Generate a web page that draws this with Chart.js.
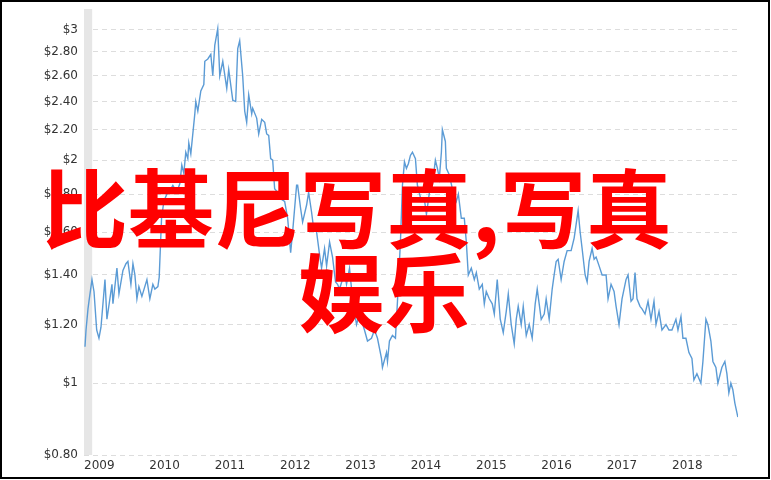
<!DOCTYPE html>
<html>
<head>
<meta charset="utf-8">
<script src="https://cdn.jsdelivr.net/npm/chart.js@4/dist/chart.umd.min.js"></script>
<style>
  html, body { margin: 0; padding: 0; background: #fff; }
  #wrap { position: relative; width: 771px; height: 480px; overflow: hidden; }
  #chart { position: absolute; left: 0; top: 0; }
  #frame { position: absolute; left: 0; top: 0; width: 770px; height: 479px; border: 2px solid #000; box-sizing: border-box; pointer-events: none; }
  .mark { position: absolute; color: #ff0000; font-family: "Noto Sans CJK SC", sans-serif; font-weight: bold; font-size: 86px; line-height: 86px; white-space: nowrap; }
</style>
</head>
<body>
<div id="wrap">
  <canvas id="chart" width="771" height="480"></canvas>
  <div id="frame"></div>
  <div class="mark" id="line1" style="left:42px; top:162px;">比基尼写真,写真</div>
  <div class="mark" id="line2" style="left:298px; top:246px;">娱乐</div>
</div>
<script>
// decimal years and prices
const dates = [
  2009.015, 2009.031, 2009.061, 2009.076, 2009.122, 2009.153, 2009.194, 2009.229, 2009.260, 2009.321,
  2009.351, 2009.428, 2009.443, 2009.504, 2009.535, 2009.596, 2009.642, 2009.672, 2009.718, 2009.749,
  2009.779, 2009.810, 2009.840, 2009.886, 2009.963, 2010.008, 2010.054, 2010.085, 2010.131, 2010.151,
  2010.187, 2010.222, 2010.268, 2010.314, 2010.360, 2010.421, 2010.467, 2010.497, 2010.528, 2010.558,
  2010.589, 2010.604, 2010.635, 2010.696, 2010.711, 2010.742, 2010.788, 2010.834, 2010.849, 2010.895,
  2010.941, 2010.971, 2011.002, 2011.047, 2011.078, 2011.124, 2011.185, 2011.215, 2011.277, 2011.322,
  2011.353, 2011.383, 2011.429, 2011.460, 2011.490, 2011.521, 2011.567, 2011.582, 2011.643, 2011.674,
  2011.720, 2011.766, 2011.796, 2011.827, 2011.857, 2011.888, 2011.918, 2011.964, 2012.025, 2012.071,
  2012.117, 2012.163, 2012.193, 2012.254, 2012.270, 2012.316, 2012.346, 2012.407, 2012.438, 2012.484,
  2012.514, 2012.560, 2012.606, 2012.636, 2012.682, 2012.713, 2012.759, 2012.804, 2012.850, 2012.881,
  2012.911, 2012.988, 2013.018, 2013.064, 2013.110, 2013.171, 2013.217, 2013.293, 2013.339, 2013.400,
  2013.446, 2013.492, 2013.553, 2013.568, 2013.630, 2013.645, 2013.675, 2013.721, 2013.767, 2013.798,
  2013.843, 2013.874, 2013.905, 2013.935, 2013.966, 2013.996, 2014.027, 2014.073, 2014.103, 2014.164,
  2014.210, 2014.241, 2014.287, 2014.332, 2014.378, 2014.409, 2014.439, 2014.470, 2014.485, 2014.531,
  2014.546, 2014.592, 2014.638, 2014.699, 2014.730, 2014.775, 2014.821, 2014.852, 2014.882, 2014.928,
  2014.974, 2015.005, 2015.050, 2015.096, 2015.127, 2015.157, 2015.203, 2015.249, 2015.280, 2015.325,
  2015.371, 2015.417, 2015.463, 2015.494, 2015.539, 2015.585, 2015.616, 2015.646, 2015.692, 2015.723,
  2015.769, 2015.814, 2015.860, 2015.906, 2015.937, 2015.967, 2015.998, 2016.044, 2016.074, 2016.120,
  2016.166, 2016.196, 2016.227, 2016.257, 2016.303, 2016.349, 2016.395, 2016.456, 2016.502, 2016.533,
  2016.563, 2016.594, 2016.624, 2016.670, 2016.701, 2016.731, 2016.777, 2016.808, 2016.838, 2016.884,
  2016.930, 2016.991, 2017.021, 2017.067, 2017.113, 2017.144, 2017.189, 2017.235, 2017.296, 2017.327,
  2017.373, 2017.403, 2017.434, 2017.464, 2017.510, 2017.541, 2017.587, 2017.633, 2017.678, 2017.724,
  2017.755, 2017.801, 2017.846, 2017.908, 2017.953, 2017.999, 2018.060, 2018.091, 2018.137, 2018.167,
  2018.213, 2018.259, 2018.305, 2018.335, 2018.381, 2018.442, 2018.473, 2018.519, 2018.549, 2018.595,
  2018.626, 2018.672, 2018.702, 2018.763, 2018.809, 2018.840, 2018.870, 2018.901, 2018.931, 2018.962,
  2019.008
];
const prices = [
  1.12, 1.18, 1.26, 1.29, 1.38, 1.33, 1.18, 1.15, 1.19, 1.38,
  1.22, 1.36, 1.28, 1.43, 1.32, 1.42, 1.45, 1.46, 1.36, 1.45,
  1.40, 1.30, 1.35, 1.31, 1.38, 1.30, 1.36, 1.34, 1.35, 1.39,
  1.67, 1.76, 1.80, 1.82, 1.85, 1.81, 1.86, 1.97, 1.92, 2.05,
  2.01, 2.11, 2.04, 2.31, 2.40, 2.33, 2.48, 2.53, 2.72, 2.74,
  2.78, 2.60, 2.86, 3.01, 2.60, 2.72, 2.50, 2.65, 2.41, 2.40,
  2.83, 2.90, 2.60, 2.33, 2.25, 2.45, 2.31, 2.35, 2.28, 2.17,
  2.27, 2.25, 2.17, 2.16, 2.01, 2.00, 1.83, 1.81, 1.77, 1.76,
  1.67, 1.50, 1.60, 1.85, 1.85, 1.72, 1.65, 1.74, 1.81, 1.70,
  1.62, 1.60, 1.49, 1.43, 1.52, 1.44, 1.55, 1.48, 1.37, 1.36,
  1.34, 1.41, 1.36, 1.43, 1.30, 1.20, 1.24, 1.18, 1.14, 1.15,
  1.18, 1.15, 1.08, 1.05, 1.10, 1.07, 1.14, 1.16, 1.15, 1.29,
  1.55, 1.85, 1.99, 1.95, 1.98, 2.03, 2.05, 2.01, 1.85, 1.76,
  1.77, 1.69, 1.81, 1.85, 2.00, 1.95, 1.89, 2.05, 2.20, 2.12,
  1.95, 1.91, 1.83, 1.76, 1.80, 1.67, 1.67, 1.55, 1.40, 1.43,
  1.38, 1.41, 1.34, 1.36, 1.28, 1.33, 1.30, 1.28, 1.24, 1.38,
  1.22, 1.17, 1.25, 1.32, 1.20, 1.13, 1.22, 1.27, 1.20, 1.27,
  1.16, 1.20, 1.15, 1.28, 1.34, 1.28, 1.22, 1.24, 1.30, 1.22,
  1.34, 1.40, 1.46, 1.47, 1.38, 1.46, 1.51, 1.51, 1.57, 1.64,
  1.71, 1.60, 1.52, 1.40, 1.37, 1.46, 1.52, 1.47, 1.48, 1.44,
  1.40, 1.40, 1.30, 1.36, 1.33, 1.27, 1.20, 1.30, 1.38, 1.40,
  1.29, 1.30, 1.41, 1.30, 1.27, 1.26, 1.24, 1.29, 1.22, 1.29,
  1.20, 1.25, 1.18, 1.20, 1.18, 1.18, 1.22, 1.18, 1.23, 1.15,
  1.15, 1.10, 1.08, 1.01, 1.03, 1.00, 1.07, 1.22, 1.20, 1.14,
  1.07, 1.05, 1.00, 1.05, 1.07, 1.03, 0.97, 1.00, 0.98, 0.94,
  0.90
];

const priceTicks = [0.8, 1, 1.2, 1.4, 1.6, 1.8, 2, 2.2, 2.4, 2.6, 2.8, 3];
const yearTicks = [2009, 2010, 2011, 2012, 2013, 2014, 2015, 2016, 2017, 2018];
const shadeRange = [2009.0, 2009.125]; // grey band at the left edge

function fmtPrice(v) {
  return Number.isInteger(v) ? "$" + v : "$" + v.toFixed(2);
}

const shadePlugin = {
  id: "shade",
  beforeDatasetsDraw(chart) {
    const { ctx, chartArea, scales } = chart;
    const x0 = scales.x.getPixelForValue(shadeRange[0]);
    const x1 = scales.x.getPixelForValue(shadeRange[1]);
    ctx.save();
    ctx.fillStyle = "#e6e6e6";
    ctx.fillRect(x0, chartArea.top, x1 - x0, chartArea.bottom - chartArea.top);
    ctx.restore();
  }
};

const tickFont = { family: "DejaVu Sans", size: 12 };

new Chart(document.getElementById("chart"), {
  type: "line",
  data: {
    datasets: [{
      data: dates.map((d, i) => ({ x: d, y: prices[i] })),
      borderColor: "#5b9bd5",
      borderWidth: 1.4,
      pointRadius: 0,
      tension: 0,
      fill: false
    }]
  },
  options: {
    responsive: false,
    animation: false,
    layout: { padding: { top: 9, right: 33, bottom: 0, left: 0 } },
    plugins: { legend: { display: false }, tooltip: { enabled: false } },
    scales: {
      x: {
        type: "linear",
        min: 2009.0,
        max: 2019.01,
        afterBuildTicks: s => { s.ticks = yearTicks.map(v => ({ value: v })); },
        afterFit: s => { s.height = 25; s.paddingLeft = 0; s.paddingRight = 0; },
        grid: { display: false, drawTicks: false },
        border: { display: false },
        ticks: { align: "start", padding: 4, color: "#333", font: tickFont, maxRotation: 0, callback: v => String(v) }
      },
      y: {
        type: "logarithmic",
        min: 0.8,
        max: 3.2,
        afterBuildTicks: s => { s.ticks = priceTicks.map(v => ({ value: v })); },
        afterFit: s => { s.width = 84; s.paddingTop = 0; s.paddingBottom = 0; },
        grid: { color: "#dddddd", lineWidth: 1, drawTicks: false, borderDash: [5, 4] },
        border: { display: false, dash: [5, 4] },
        ticks: { padding: 6, color: "#333", font: tickFont, callback: v => fmtPrice(v) }
      }
    }
  },
  plugins: [shadePlugin]
});
</script>
</body>
</html>
